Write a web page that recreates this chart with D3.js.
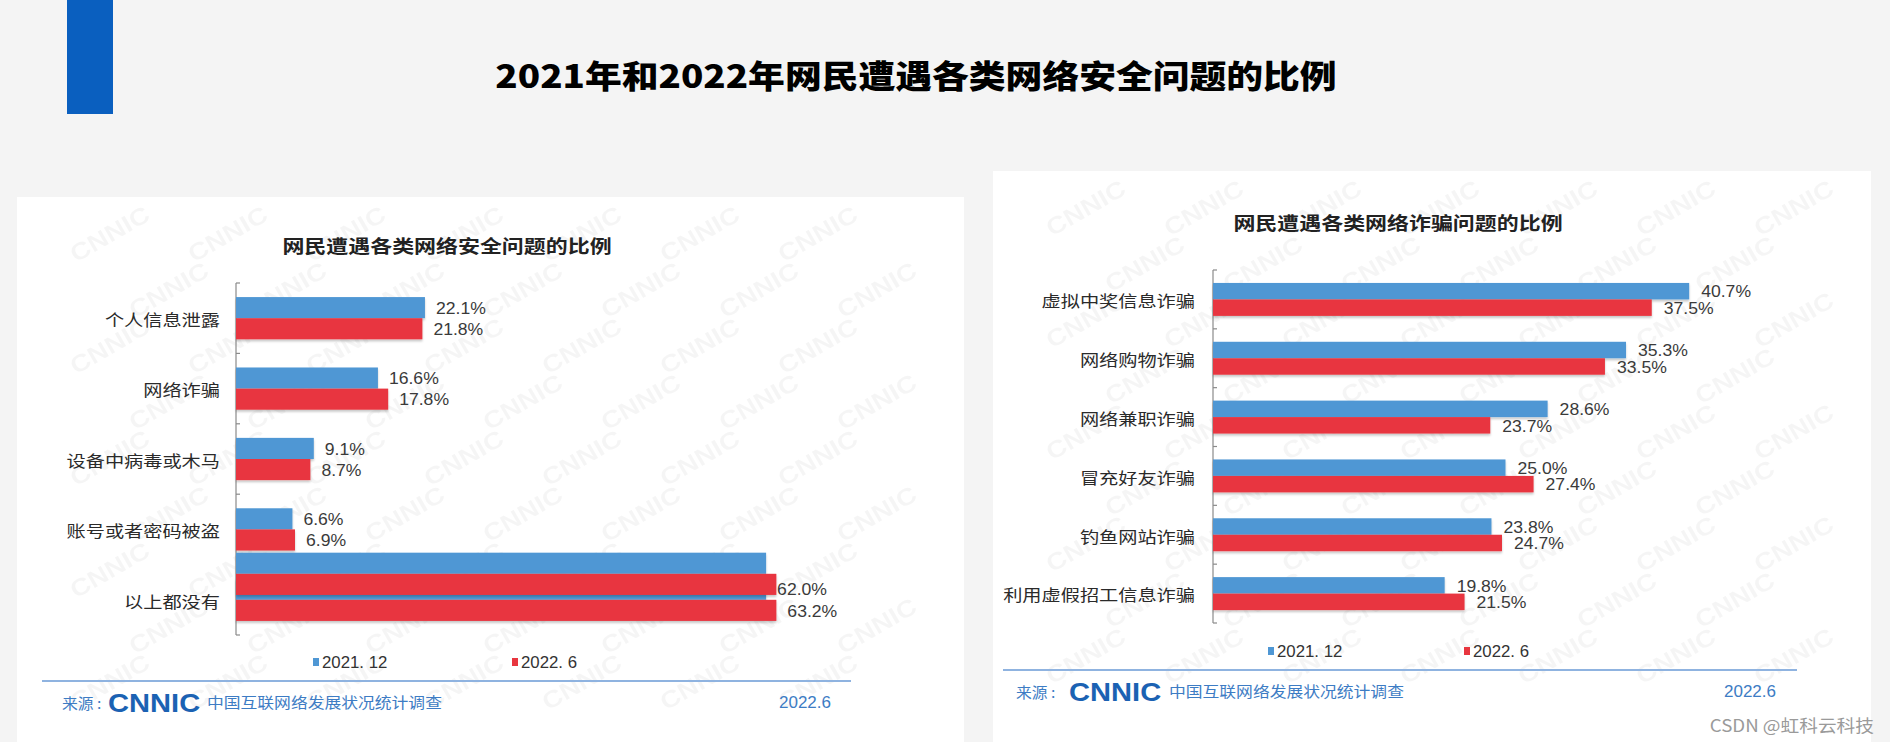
<!DOCTYPE html>
<html>
<head>
<meta charset="utf-8">
<script src="https://cdn.jsdelivr.net/npm/d3@7"></script>
<style>
  html, body { margin: 0; padding: 0; background: #f4f4f4; overflow: hidden; }
  svg { display: block; }
  text { font-family: "Noto Sans CJK SC", "Noto Sans", sans-serif; }
</style>
</head>
<body>
<div id="chart"></div>
<script>
// data
var secCats = ["个人信息泄露", "网络诈骗", "设备中病毒或木马", "账号或者密码被盗", "以上都没有"];
var sec2021 = [22.1, 16.6, 9.1, 6.6, 62.0];
var sec2022 = [21.8, 17.8, 8.7, 6.9, 63.2];

var fraudCats = ["虚拟中奖信息诈骗", "网络购物诈骗", "网络兼职诈骗", "冒充好友诈骗", "钓鱼网站诈骗", "利用虚假招工信息诈骗"];
var fraud2021 = [40.7, 35.3, 28.6, 25.0, 23.8, 19.8];
var fraud2022 = [37.5, 33.5, 23.7, 27.4, 24.7, 21.5];

var seriesNames = ["2021. 12", "2022. 6"];
var colors = ["#4f97d4", "#e8363f"];

var W = 1890, H = 742;
var latin = '"Liberation Sans", Arial, sans-serif';

var svg = d3.select("#chart").append("svg").attr("width", W).attr("height", H);
var defs = svg.append("defs");

var shadow = defs.append("filter").attr("id", "shadow")
  .attr("x", "-5%").attr("y", "-20%").attr("width", "110%").attr("height", "160%");
shadow.append("feDropShadow")
  .attr("dx", 0).attr("dy", 2).attr("stdDeviation", 1.2)
  .attr("flood-color", "#000").attr("flood-opacity", 0.22);

// text that is stretched sideways like the source picture
function sText(g, x, y, str, size, sx) {
  return g.append("text")
    .attr("transform", "translate(" + x + "," + y + ") scale(" + sx + ",1)")
    .style("font-size", size + "px")
    .text(str);
}

svg.append("rect").attr("width", W).attr("height", H).attr("fill", "#f4f4f4");
svg.append("rect").attr("x", 67).attr("y", 0).attr("width", 46).attr("height", 114).attr("fill", "#0a5fbf");

sText(svg, 916, 88, "2021年和2022年网民遭遇各类网络安全问题的比例", 32, 1.15)
  .attr("text-anchor", "middle")
  .style("font-weight", 900)
  .attr("fill", "#000");

function drawPanel(cfg) {
  var p = cfg.panel;

  svg.append("rect")
    .attr("x", p.x).attr("y", p.y).attr("width", p.w).attr("height", p.h)
    .attr("fill", "#fff");

  // CNNIC watermark, only the copies that fit inside the panel
  var wm = svg.append("g");
  for (var r = 0; r * 56 < p.h + 60; r++) {
    for (var c = -1; c * 118 < p.w + 120; c++) {
      var wx = p.x + c * 118 + (r % 2) * 59;
      var wy = p.y + 10 + r * 56;
      if (wx < p.x + 4 || wx + 90 > p.x + p.w || wy - 52 < p.y || wy + 8 > p.y + p.h) continue;
      wm.append("text")
        .attr("transform", "translate(" + wx + "," + wy + ") rotate(-30) scale(1.15,1)")
        .style("font-family", latin)
        .style("font-size", "24px")
        .style("font-weight", "bold")
        .attr("fill", "#000")
        .attr("opacity", 0.035)
        .text("CNNIC");
    }
  }

  var g = svg.append("g");

  sText(g, cfg.titleX, cfg.titleY, cfg.title, 18, 1.22)
    .attr("text-anchor", "middle")
    .attr("dominant-baseline", "central")
    .style("font-weight", "bold")
    .attr("fill", "#222");

  var x = d3.scaleLinear().domain(cfg.xDomain).range(cfg.xRange);
  var x0 = x(0);
  var y = d3.scaleBand()
    .domain(cfg.cats)
    .range(cfg.yRange)
    .paddingInner(cfg.pad)
    .paddingOuter(cfg.pad / 2);
  var ys = d3.scaleBand().domain(seriesNames).range([0, y.bandwidth()]);

  var rows = cfg.cats.map(function (cat, i) {
    return { cat: cat, vals: [cfg.v1[i], cfg.v2[i]] };
  });

  // axis line with ticks at category boundaries
  g.append("line")
    .attr("x1", x0).attr("x2", x0)
    .attr("y1", cfg.yRange[0]).attr("y2", cfg.yRange[1])
    .attr("stroke", "#8a8a8a").attr("stroke-width", 1.2);
  d3.range(cfg.cats.length + 1).forEach(function (i) {
    var ty = cfg.yRange[0] + i * y.step();
    g.append("line")
      .attr("x1", x0).attr("x2", x0 + 4)
      .attr("y1", ty).attr("y2", ty)
      .attr("stroke", "#8a8a8a").attr("stroke-width", 1.2);
  });

  function drawBars(list, shift) {
    list.forEach(function (row) {
      row.vals.forEach(function (v, k) {
        g.append("rect")
          .attr("x", x0)
          .attr("y", y(row.cat) + ys(seriesNames[k]) - shift)
          .attr("width", x(v) - x0)
          .attr("height", ys.bandwidth())
          .attr("fill", colors[k])
          .attr("filter", "url(#shadow)");
      });
    });
  }
  drawBars(rows, 0);
  // the source picture shows the last pair a second time, a bit higher
  if (cfg.ghost) drawBars(rows.slice(-1), cfg.ghost);

  rows.forEach(function (row) {
    row.vals.forEach(function (v, k) {
      sText(g, x(v) + cfg.valGap, y(row.cat) + ys(seriesNames[k]) + ys.bandwidth() / 2 + 1, v.toFixed(1) + "%", 16, 1.1)
        .attr("dominant-baseline", "central")
        .style("font-family", latin)
        .attr("fill", "#3a3a3a");
    });
    sText(g, x0 - cfg.labelGap, y(row.cat) + y.bandwidth() / 2 + 1, row.cat, 16, 1.2)
      .attr("text-anchor", "end")
      .attr("dominant-baseline", "central")
      .attr("fill", "#2a2a2a");
  });

  // legend
  seriesNames.forEach(function (name, k) {
    var lx = cfg.legendX[k];
    g.append("rect")
      .attr("x", lx).attr("y", cfg.legendY - 4)
      .attr("width", 6).attr("height", 8)
      .attr("fill", colors[k]);
    sText(g, lx + 9, cfg.legendY, name, 16, 1.05)
      .attr("dominant-baseline", "central")
      .style("font-family", latin)
      .attr("fill", "#333");
  });

  // divider and source line
  g.append("line")
    .attr("x1", cfg.divider[0]).attr("x2", cfg.divider[1])
    .attr("y1", cfg.dividerY).attr("y2", cfg.dividerY)
    .attr("stroke", "#8fb3e0").attr("stroke-width", 2);

  var f = cfg.footer;
  sText(g, f.src, f.y, "来源 :", 15, 1.05)
    .attr("dominant-baseline", "central")
    .attr("fill", "#3d7cc4");
  sText(g, f.logo, f.y + 1, "CNNIC", 26, 1.12)
    .attr("dominant-baseline", "central")
    .style("font-family", latin)
    .style("font-weight", 900)
    .attr("fill", "#1b62b3");
  sText(g, f.name, f.y, "中国互联网络发展状况统计调查", 15, 1.12)
    .attr("dominant-baseline", "central")
    .attr("fill", "#3d7cc4");
  sText(g, f.date, f.y, "2022.6", 17, 1.0)
    .attr("text-anchor", "end")
    .attr("dominant-baseline", "central")
    .style("font-family", latin)
    .attr("fill", "#3d7cc4");
}

drawPanel({
  id: "sec",
  panel: { x: 17, y: 197, w: 947, h: 545 },
  title: "网民遭遇各类网络安全问题的比例",
  titleX: 447, titleY: 245,
  cats: secCats, v1: sec2021, v2: sec2022,
  xDomain: [0, 70], xRange: [236, 236 + 70 * 8.55],
  yRange: [283, 635], pad: 0.4,
  valGap: 11, labelGap: 16,
  ghost: 26,
  legendX: [313, 512], legendY: 662,
  divider: [42, 851], dividerY: 681,
  footer: { y: 702, src: 62, logo: 108, name: 207, date: 831 }
});

drawPanel({
  id: "fraud",
  panel: { x: 993, y: 171, w: 878, h: 571 },
  title: "网民遭遇各类网络诈骗问题的比例",
  titleX: 1398, titleY: 222,
  cats: fraudCats, v1: fraud2021, v2: fraud2022,
  xDomain: [0, 50], xRange: [1213, 1213 + 50 * 11.7],
  yRange: [270, 623], pad: 0.44,
  valGap: 12, labelGap: 18,
  ghost: 0,
  legendX: [1268, 1464], legendY: 651,
  divider: [1003, 1797], dividerY: 670,
  footer: { y: 691, src: 1016, logo: 1069, name: 1169, date: 1776 }
});

sText(svg, 1874, 724, "CSDN @虹科云科技", 17, 1.1)
  .attr("text-anchor", "end")
  .attr("dominant-baseline", "central")
  .attr("fill", "#9a9a9a");
</script>
</body>
</html>
